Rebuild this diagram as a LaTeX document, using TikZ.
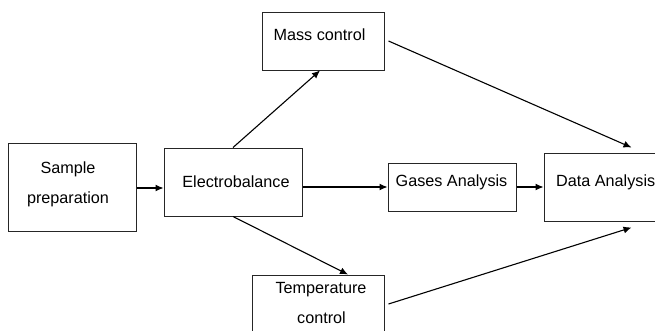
\documentclass[tikz,border=0pt]{standalone}
\usepackage{fontspec}
\setmainfont{Liberation Sans}
\usetikzlibrary{arrows.meta}
\begin{document}
\begin{tikzpicture}[x=1pt,y=-1pt,
  box/.style={draw=black!85, line width=1pt, inner sep=0pt},
  lbl/.style={font=\fontsize{16.2}{18}\selectfont, anchor=base, inner sep=0pt},
  flow/.style={draw=black, line width=1.1pt, -{Latex[length=8pt,width=7pt]}}]
\useasboundingbox (0,0) rectangle (655,330);
\clip (0,0) rectangle (655,330);
\fill[white] (0,0) rectangle (655,330);

% boxes
\node[box, minimum width=128pt, minimum height=88pt] (sample) at (72,187) {};
\node[box, minimum width=138pt, minimum height=68pt] (elec)   at (233,182) {};
\node[box, minimum width=122pt, minimum height=58pt] (mass)   at (323,41) {};
\node[box, minimum width=128pt, minimum height=48pt] (gases)  at (452,187) {};
\node[box, minimum width=125pt, minimum height=68pt] (data)   at (606.5,187) {};
\node[box, minimum width=132pt, minimum height=70pt] (temp)   at (318,310) {};

% texts
\node[lbl] (tsample1) at (68,173) {Sample};
\node[lbl] (tsample2) at (68,203) {preparation};
\node[lbl] (telec)    at (236,187) {Electrobalance};
\node[lbl] (tmass)    at (319.5,40) {Mass control};
\node[lbl] (tgases)   at (451.5,186) {Gases Analysis};
\node[lbl, anchor=base west] (tdata) at (556,186) {Data Analysis};
\node[lbl] (ttemp1)   at (321,293.5) {Temperature};
\node[lbl] (ttemp2)   at (321.5,323) {control};

% connectors
\draw[flow] (sample.east |- 0,188) -- (elec.west |- 0,188);
\draw[flow] (elec.east |- 0,187) -- (gases.west |- 0,187);
\draw[flow] (gases.east |- 0,187) -- (data.west |- 0,187);
\draw[flow] (elec.north) -- ([xshift=-3pt]mass.south);
\draw[flow] (elec.south) -- ([xshift=30pt]temp.north);
\draw[flow] ([xshift=4pt]mass.east) -- ([xshift=88pt,yshift=5pt]data.north west);
\draw[flow] ([xshift=4pt,yshift=6pt]temp.east) -- ([xshift=88pt,yshift=-6pt]data.south west);
\end{tikzpicture}
\end{document}
